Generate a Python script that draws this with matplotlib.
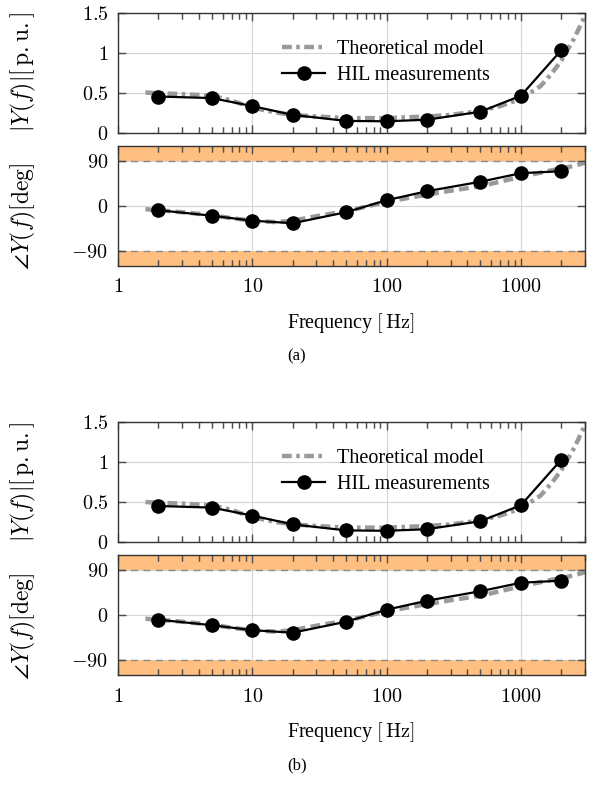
import matplotlib
matplotlib.use("Agg")
import matplotlib.pyplot as plt
from matplotlib.ticker import FixedLocator, FixedFormatter, NullFormatter

plt.rcParams['font.family'] = ['Liberation Serif', 'DejaVu Serif']
plt.rcParams['mathtext.fontset'] = 'cm'

# HIL measurement points
f_hil = [2, 5, 10, 20, 50, 100, 200, 500, 1000, 2000]
mag_hil = [0.45, 0.43, 0.33, 0.22, 0.145, 0.14, 0.16, 0.26, 0.46, 1.03]
phase_hil = [-9, -20, -30, -35, -13, 11, 29, 48, 65, 69]

# theoretical admittance model
f_model = [1.6, 2, 3, 5, 7, 10, 15, 20, 30, 50, 70, 100, 200, 300, 500,
           700, 1000, 1400, 1700, 2000, 2500, 3000]
mag_model = [0.50, 0.49, 0.48, 0.46, 0.40, 0.31, 0.25, 0.22, 0.20, 0.18, 0.18,
             0.18, 0.20, 0.22, 0.27, 0.33, 0.42, 0.58, 0.74, 0.90, 1.18, 1.46]
phase_model = [-7, -9, -13, -19, -25, -30, -33, -30, -21, -11, -2, 8, 22, 30,
               39, 48, 58, 66, 71, 74, 80, 86]

x_ticks = [1, 10, 100, 1000]
x_minor = [d * k for d in (1, 10, 100, 1000) for k in range(2, 10)]
x_ticklabels = ['$1$', '$10$', '$100$', '$1000$']
mag_ticks = [0, 0.5, 1, 1.5]
mag_ticklabels = ['$0$', '$0.5$', '$1$', '$1.5$']
phase_ticks = [-90, 0, 90]
phase_ticklabels = ['$-90$', '$0$', '$90$']
phase_limit = 120

FS = 14.5
W, H = 593, 791
GRID = '#d4d4d4'
BAND = '#ffbf80'
MODEL = '#9a9a9a'
TICK = '#505050'


def fx(px):
    return px / W


def fy(top, bottom):
    return 1 - bottom / H, (bottom - top) / H


def inner_ticks(ax, yticks):
    # short tick marks drawn inwards from all four spines
    xt = ax.get_xaxis_transform()
    yt = ax.get_yaxis_transform()
    kw = dict(color=TICK, lw=0.9, zorder=2.5, clip_on=False)
    for vals, ln in ((x_minor, 0.05), (x_ticks[1:], 0.06)):
        ax.vlines(vals, 0, ln, transform=xt, **kw)
        ax.vlines(vals, 1 - ln, 1, transform=xt, **kw)
    ax.hlines(yticks, 0, 0.014, transform=yt, **kw)
    ax.hlines(yticks, 0.986, 1, transform=yt, **kw)


def style_axis(ax, yticks, yticklabels):
    ax.set_xscale('log')
    ax.set_xlim(1, 3000)
    ax.xaxis.set_major_locator(FixedLocator(x_ticks))
    ax.xaxis.set_minor_locator(FixedLocator(x_minor))
    ax.xaxis.set_minor_formatter(NullFormatter())
    ax.yaxis.set_major_locator(FixedLocator(yticks))
    ax.yaxis.set_major_formatter(FixedFormatter(yticklabels))
    ax.tick_params(which='both', direction='in', top=True, right=True,
                   color=TICK, width=0.9, labelsize=FS)
    ax.tick_params(which='major', length=5.5, pad=7)
    ax.tick_params(which='minor', length=4.5)
    for s in ax.spines.values():
        s.set_color('#333333')
        s.set_linewidth(1.0)
    # major grid under everything else
    for xv in x_ticks[1:]:
        ax.axvline(xv, color=GRID, lw=0.8, zorder=0.3)
    for yv in yticks:
        ax.axhline(yv, color=GRID, lw=0.8, zorder=0.3)


def draw_panel(offset, tag):
    left, right = 118, 585
    b, h = fy(12.5 + offset, 132.5 + offset)
    ax1 = fig.add_axes([fx(left), b, fx(right - left), h])
    b, h = fy(145.7 + offset, 265.7 + offset)
    ax2 = fig.add_axes([fx(left), b, fx(right - left), h])

    # magnitude
    style_axis(ax1, mag_ticks, mag_ticklabels)
    ax1.set_ylim(0, 1.5)
    ax1.plot(f_model, mag_model, color=MODEL, lw=3.2,
             dashes=(2.2, 1.0, 0.8, 1.0), zorder=2, label='Theoretical model')
    ax1.plot(f_hil, mag_hil, color='black', lw=1.6, marker='o', ms=9.5,
             zorder=3, label='HIL measurements')
    ax1.xaxis.set_major_formatter(NullFormatter())
    ax1.set_ylabel(r'$|Y(f)|[\,\mathrm{p.u.}]$', fontsize=17)
    ax1.yaxis.set_label_coords(-0.172, 0.5)
    ax1.legend(loc='upper left', bbox_to_anchor=(0.352, 0.775), frameon=False,
               fontsize=FS, handlelength=2.1, handletextpad=0.6,
               labelspacing=0.35, borderpad=0, borderaxespad=0)
    inner_ticks(ax1, mag_ticks)
    ax1.set_xlim(1, 3000)
    ax1.set_ylim(0, 1.5)

    # phase
    style_axis(ax2, phase_ticks, phase_ticklabels)
    ax2.set_ylim(-phase_limit, phase_limit)
    ax2.axhspan(90, phase_limit, color=BAND, lw=0, zorder=0.6)
    ax2.axhspan(-phase_limit, -90, color=BAND, lw=0, zorder=0.6)
    ax2.axhline(90, color='#8a8a8a', lw=1.0, ls=(0, (5, 4)), zorder=0.7)
    ax2.axhline(-90, color='#8a8a8a', lw=1.0, ls=(0, (5, 4)), zorder=0.7)
    ax2.plot(f_model, phase_model, color=MODEL, lw=3.2, dashes=(2.2, 1.2),
             zorder=2)
    ax2.plot(f_hil, phase_hil, color='black', lw=1.6, marker='o', ms=9.5,
             zorder=3)
    ax2.xaxis.set_major_formatter(FixedFormatter(x_ticklabels))
    ax2.tick_params(axis='x', which='major', pad=9)
    ax2.set_ylabel(r'$\angle Y(f)[\mathrm{deg}]$', fontsize=17)
    ax2.yaxis.set_label_coords(-0.172, 0.41)
    inner_ticks(ax2, phase_ticks)
    ax2.set_xlim(1, 3000)
    ax2.set_ylim(-phase_limit, phase_limit)

    fig.text(fx(351), 1 - (323 + offset) / H, r'Frequency $[\,\mathrm{Hz}]$',
             ha='center', va='center', fontsize=FS)
    fig.text(fx(297), 1 - (356 + offset) / H, tag, ha='center', va='center',
             fontsize=12)


fig = plt.figure(figsize=(W / 100, H / 100), dpi=100)
draw_panel(0, '(a)')
draw_panel(409.5, '(b)')
fig.savefig('out.png', dpi=100)
